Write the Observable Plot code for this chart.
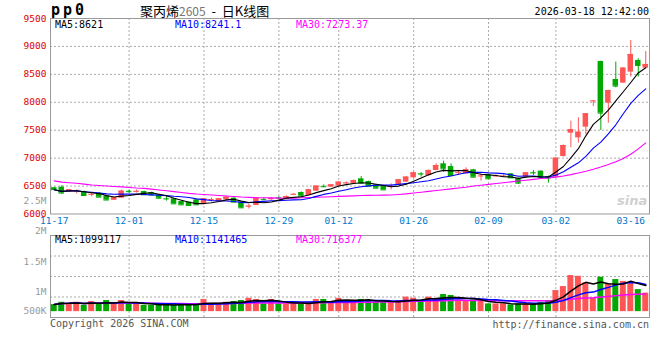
<!DOCTYPE html>
<html><head><meta charset="utf-8">
<script src="https://cdn.jsdelivr.net/npm/d3@7"></script>
<script src="https://cdn.jsdelivr.net/npm/@observablehq/plot@0.6"></script>
<style>
html,body{margin:0;padding:0;background:#fff;}
#wrap{position:relative;width:660px;height:360px;overflow:hidden;font-family:"DejaVu Sans Mono",monospace;}
#wrap svg{position:absolute;left:0;}
.t{position:absolute;white-space:nowrap;line-height:1;font-size:10px;}
</style></head>
<body>
<div id="wrap"></div>
<script>
const dates = ["11-17","11-18","11-19","11-20","11-21","11-24","11-25","11-26","11-27","11-28",
"12-01","12-02","12-03","12-04","12-05","12-08","12-09","12-10","12-11","12-12",
"12-15","12-16","12-17","12-18","12-19","12-22","12-23","12-24","12-25","12-26",
"12-29","12-30","12-31","01-05","01-06","01-07","01-08","01-09",
"01-12","01-13","01-14","01-15","01-16","01-19","01-20","01-21","01-22","01-23",
"01-26","01-27","01-28","01-29","01-30","02-02","02-03","02-04","02-05","02-06",
"02-09","02-10","02-11","02-12","02-13","02-24","02-25","02-26","02-27",
"03-02","03-03","03-04","03-05","03-06","03-09","03-10","03-11","03-12","03-13",
"03-16","03-17","03-18"];
const open  = [6470,6480,6390,6405,6402,6345,6373,6320,6245,6283, 6408,6398,6403,6385,6343,6275,6271,6223,6212,6253,
6170,6255,6223,6253,6283,6212,6130,6152,6262,6255, 6292,6259,6345,6385,6331,6409,6495,6480,
6498,6548,6540,6630,6582,6522,6498,6490,6510,6570, 6647,6722,6689,6779,6898,6850,6735,6719,6791,6675,
6701,6675,6676,6719,6630,6659,6742,6767,6671, 6659,7029,7447,7364,7555,8020,8731,7985,8408,8343, 8540,8749,8611];
const high  = [6480,6505,6440,6432,6410,6385,6380,6325,6295,6430, 6430,6430,6410,6390,6350,6313,6275,6230,6215,6260,
6280,6283,6280,6310,6290,6215,6180,6295,6290,6295, 6310,6325,6365,6395,6440,6505,6520,6530,
6580,6575,6610,6671,6590,6530,6505,6540,6620,6670, 6745,6740,6790,6898,6946,6898,6779,6826,6800,6719,
6710,6700,6700,6725,6640,6745,6779,6775,6680, 7005,7235,7662,7722,7800,8032,8735,8215,8719,8620, 9107,8779,8910];
const low   = [6425,6350,6385,6360,6325,6305,6295,6242,6240,6280, 6365,6375,6335,6330,6260,6230,6175,6160,6140,6160,
6165,6212,6220,6250,6205,6105,6090,6150,6240,6245, 6265,6255,6330,6300,6325,6405,6470,6475,
6495,6530,6535,6545,6495,6455,6425,6432,6505,6565, 6640,6660,6685,6775,6749,6685,6689,6715,6655,6588,
6625,6660,6655,6640,6530,6655,6689,6640,6552, 6650,7020,7185,7268,7423,7925,7495,7626,8259,8340, 8450,8450,8600];
const close = [6435,6375,6432,6412,6331,6352,6301,6250,6290,6409, 6400,6405,6343,6340,6283,6270,6182,6164,6152,6164,
6271,6260,6271,6301,6212,6110,6140,6283,6256,6280, 6285,6313,6352,6320,6432,6498,6488,6522,
6570,6555,6600,6552,6498,6462,6432,6495,6612,6660, 6737,6715,6779,6868,6808,6689,6740,6791,6659,6680,
6630,6681,6680,6647,6552,6737,6736,6647,6645, 6999,7226,7513,7465,7794,8025,7806,8211,8289,8611, 8856,8659,8677];
const volume = [300000,400000,360000,400000,270000,430000,330000,475000,330000,475000,
330000,330000,270000,270000,270000,330000,270000,330000,270000,330000,
520000,330000,330000,400000,430000,475000,570000,520000,330000,520000,
330000,330000,330000,330000,400000,520000,520000,400000,
570000,475000,475000,520000,475000,400000,400000,370000,475000,620000,
570000,475000,620000,520000,730000,690000,475000,430000,500000,430000,
330000,330000,330000,290000,330000,330000,310000,400000,475000,
900000,1070000,1540000,1510000,1230000,570000,1470000,1190000,1370000,1290000,
1190000,940000,790000];
const ma30 = [6593,6570,6560,6550,6535,6520,6510,6500,6492,6485, 6475,6465,6458,6445,6430,6415,6400,6385,6370,6358,
6350,6340,6330,6322,6312,6303,6298,6292,6290,6288, 6285,6282,6285,6290,6295,6300,6305,6310,
6315,6320,6325,6330,6333,6335,6338,6340,6350,6360, 6375,6390,6405,6420,6435,6450,6465,6480,6500,6515,
6530,6545,6560,6575,6590,6605,6620,6635,6645, 6660,6680,6705,6735,6765,6800,6840,6885,6935,6995, 7070,7165,7273];

const priceTicks = [6000,6500,7000,7500,8000,8500,9000,9500];
const priceGrid = [6500,7000,7500,8000,8500,9000];
const dateTicks = ["11-17","12-01","12-15","12-29","01-12","01-26","02-09","03-02","03-16"];
const dateGrid = ["12-01","12-15","12-29","01-12","01-26","02-09","03-02"];
const volGrid = [625000,1500000,2375000];
const volLabels = ["2.5M","2M","1.5M","1M","500K"];
const volLabelAt = [4720000,3440000,2140000,860000,27000];

const RED = "#ff5555", GREEN = "#00a800", GRID = "#aaaaaa";
const rows = dates.map((d,i)=>({date:d, open:open[i], high:high[i], low:low[i], close:close[i],
  volume:volume[i], ma30:ma30[i], col: close[i] >= open[i] ? RED : GREEN}));

const baseStyle = {background:"none", fontFamily:"DejaVu Sans Mono, monospace", fontSize:"10px", overflow:"visible"};

const main = Plot.plot({
  width:660, height:230, marginLeft:50, marginRight:11, marginTop:18, marginBottom:16.5,
  style: baseStyle,
  x:{type:"band", domain:dates, padding:0, label:null},
  y:{domain:[6000,9500], label:null},
  color:{type:"identity"},
  marks:[
    Plot.gridY(priceGrid, {stroke:GRID, strokeOpacity:1, strokeDasharray:"2,2"}),
    Plot.gridX(dateGrid, {stroke:GRID, strokeOpacity:1, strokeDasharray:"2,2"}),
    Plot.frame({stroke:"#999"}),
    Plot.axisY(priceTicks, {tickSize:0, tickPadding:4, fill:"#e00000", fontSize:9.5, tickFormat: d => String(d)}),
    Plot.axisX(dateTicks, {tickSize:0, tickPadding:3.5, fill:"#0077cc", fontSize:9.5}),
    Plot.ruleX(rows, {x:"date", y1:"low", y2:"high", stroke:"col"}),
    Plot.barY(rows, {x:"date", y1:"open", y2:"close", fill:"col", insetLeft:1, insetRight:1}),
    Plot.tickY(rows, {x:"date", y:"close", stroke:"col", insetLeft:1, insetRight:1}),
    Plot.line(rows, {x:"date", y:"ma30", stroke:"#ff00ff", strokeWidth:1.1}),
    Plot.lineY(rows, Plot.windowY({k:10, anchor:"end", strict:false}, {x:"date", y:"close", stroke:"#0000ff", strokeWidth:1.1})),
    Plot.lineY(rows, Plot.windowY({k:5, anchor:"end", strict:false}, {x:"date", y:"close", stroke:"#000000", strokeWidth:1.1}))
  ]
});

const vol = Plot.plot({
  width:660, height:170, marginLeft:50, marginRight:11, marginTop:45, marginBottom:43,
  style: baseStyle,
  x:{type:"band", domain:dates, padding:0, label:null, axis:null},
  y:{domain:[-250000,3250000], label:null},
  color:{type:"identity"},
  marks:[
    Plot.gridY(volGrid, {stroke:GRID, strokeOpacity:1, strokeDasharray:"2,2"}),
    Plot.gridX(dateGrid, {stroke:GRID, strokeOpacity:1, strokeDasharray:"2,2"}),
    Plot.frame({stroke:"#999"}),
    Plot.axisY(volLabelAt, {tickSize:0, tickPadding:4, fill:"#999", fontSize:9.5,
      tickFormat: d => volLabels[volLabelAt.indexOf(d)]}),
    Plot.barY(rows, {x:"date", y:"volume", fill:"col", insetLeft:0.75, insetRight:0.75}),
    Plot.lineY(rows, Plot.windowY({k:30, anchor:"end", strict:false}, {x:"date", y:"volume", stroke:"#ff00ff", strokeWidth:1.5})),
    Plot.lineY(rows, Plot.windowY({k:10, anchor:"end", strict:false}, {x:"date", y:"volume", stroke:"#0000ff", strokeWidth:1.5})),
    Plot.lineY(rows, Plot.windowY({k:5, anchor:"end", strict:false}, {x:"date", y:"volume", stroke:"#000000", strokeWidth:1.5}))
  ]
});

const wrap = document.getElementById("wrap");
main.style.top = "0px";
vol.style.top = "190px";
wrap.appendChild(main);
wrap.appendChild(vol);

function addText(html, css){
  const d = document.createElement("div");
  d.className = "t"; d.innerHTML = html; Object.assign(d.style, css); wrap.appendChild(d);
}
addText("pp0", {left:"51px", top:"3px", fontSize:"15px", fontWeight:"bold", letterSpacing:"3px", color:"#000"});
addText('<span>聚丙烯</span><span style="color:#777;font-size:12px">2605</span><span> &nbsp;- &nbsp;日K线图</span>',
  {left:"140px", top:"4px", fontSize:"13px", fontFamily:"'Noto Sans CJK SC',sans-serif", color:"#000"});
addText("2026-03-18 12:42:00", {right:"11px", top:"7px", color:"#000"});
addText("MA5:8621", {left:"55px", top:"20px", color:"#000"});
addText("MA10:8241.1", {left:"175px", top:"20px", color:"#0000ff"});
addText("MA30:7273.37", {left:"296px", top:"20px", color:"#ff00ff"});
addText("MA5:1099117", {left:"55px", top:"235px", color:"#000"});
addText("MA10:1141465", {left:"175px", top:"235px", color:"#0000ff"});
addText("MA30:716377", {left:"296px", top:"235px", color:"#ff00ff"});
addText("Copyright 2026 SINA.COM", {left:"50px", top:"319px", color:"#555"});
addText("http://finance.sina.com.cn", {right:"11px", top:"320px", color:"#555"});
addText("sina", {left:"617px", top:"194px", fontSize:"13px", fontStyle:"italic", fontWeight:"bold", color:"#d0d0d0", fontFamily:"'DejaVu Sans',sans-serif"});
</script>
</body></html>
